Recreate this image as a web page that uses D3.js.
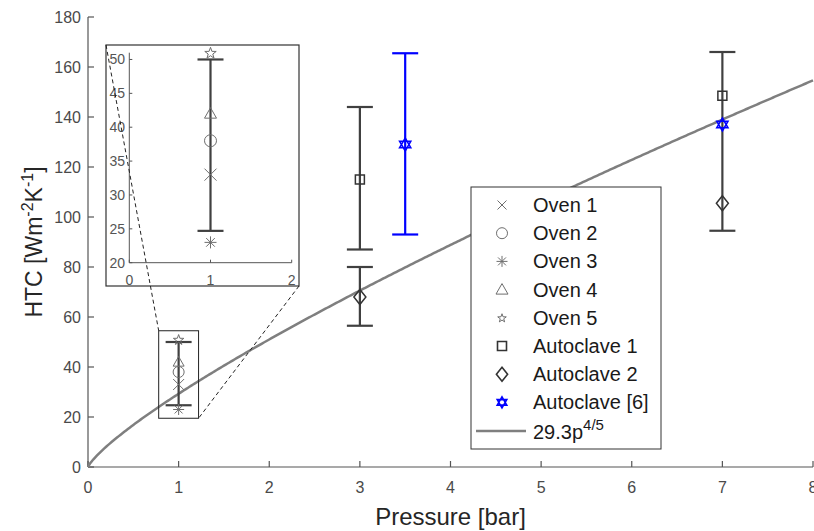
<!DOCTYPE html>
<html>
<head>
<meta charset="utf-8">
<script src="https://cdn.jsdelivr.net/npm/d3@7"></script>
<style>
  body { margin: 0; background: #fff; }
  svg { display: block; font-family: "Liberation Sans", Arial, sans-serif; }
</style>
</head>
<body>
<div id="chart"></div>
<script>
// ---------- DATA ---------- //
var ovenNames = ["Oven 1", "Oven 2", "Oven 3", "Oven 4", "Oven 5"];
var ovenSymbols = ["times", "circle", "asterisk", "triangle", "star"];
var ovenPressure = 1;
var ovenHTC = [33, 38, 23, 42, 51];

var autoclave1P = [3, 7];
var autoclave1HTC = [115, 148.5];
var autoclave2P = [3, 7];
var autoclave2HTC = [68, 105.5];
var autoclaveRefP = [3.5, 7];
var autoclaveRefHTC = [129, 137];

// error bars: pressure, low, high
var barP = [1, 3, 3, 7, 3.5];
var barLow = [24.7, 87, 56.5, 94.5, 93];
var barHigh = [50, 144, 80, 166, 165.5];
var barBlue = [false, false, false, false, true];

var fitCoef = 29.3, fitExp = 4 / 5;
var xTicks = [0, 1, 2, 3, 4, 5, 6, 7, 8];
var yTicks = [0, 20, 40, 60, 80, 100, 120, 140, 160, 180];
var insetXTicks = [0, 1, 2];
var insetYTicks = [20, 25, 30, 35, 40, 45, 50];
var zoomBox = {p0: 0.78, p1: 1.22, h0: 19.5, h1: 54.5};

// ---------- SETUP ---------- //
var W = 814, H = 531;
var svg = d3.select("#chart").append("svg").attr("width", W).attr("height", H);

var x = d3.scaleLinear().domain([0, 8]).range([88, 813]);
var y = d3.scaleLinear().domain([0, 180]).range([467, 17]);

var axisCol = "#555", labelCol = "#4a4a4a", markGray = "#6e6e6e", markDark = "#333";

// marker paths, s = size in px
function markerPath(type, s) {
  var r = s / 2, p = d3.path();
  if (type == "times") {
    p.moveTo(-r, -r); p.lineTo(r, r); p.moveTo(-r, r); p.lineTo(r, -r);
  } else if (type == "circle") {
    p.moveTo(r, 0); p.arc(0, 0, r, 0, 2 * Math.PI);
  } else if (type == "asterisk") {
    var d = r * 0.72;
    p.moveTo(-r, 0); p.lineTo(r, 0); p.moveTo(0, -r); p.lineTo(0, r);
    p.moveTo(-d, -d); p.lineTo(d, d); p.moveTo(-d, d); p.lineTo(d, -d);
  } else if (type == "triangle") {
    p.moveTo(0, -r); p.lineTo(r, r * 0.75); p.lineTo(-r, r * 0.75); p.closePath();
  } else if (type == "star") {
    for (var i = 0; i < 10; i++) {
      var a = -Math.PI / 2 + i * Math.PI / 5, rr = i % 2 ? r * 0.4 : r;
      if (i == 0) p.moveTo(rr * Math.cos(a), rr * Math.sin(a) + r * 0.1);
      else p.lineTo(rr * Math.cos(a), rr * Math.sin(a) + r * 0.1);
    }
    p.closePath();
  } else if (type == "square") {
    p.rect(-r, -r, s, s);
  } else if (type == "diamond") {
    p.moveTo(0, -r); p.lineTo(r * 0.8, 0); p.lineTo(0, r); p.lineTo(-r * 0.8, 0); p.closePath();
  } else if (type == "hexagram") {
    p.moveTo(0, -r); p.lineTo(r * 0.87, r * 0.5); p.lineTo(-r * 0.87, r * 0.5); p.closePath();
    p.moveTo(0, r); p.lineTo(r * 0.87, -r * 0.5); p.lineTo(-r * 0.87, -r * 0.5); p.closePath();
  }
  return p.toString();
}

function drawMarker(g, type, cx, cy, s, col, w) {
  g.append("path")
    .attr("d", markerPath(type, s))
    .attr("transform", "translate(" + cx + "," + cy + ")")
    .attr("fill", "none")
    .attr("stroke", col)
    .attr("stroke-width", w);
}

function drawBar(g, xs, ys, p, lo, hi, col, cap) {
  var px = xs(p);
  g.append("line").attr("x1", px).attr("x2", px).attr("y1", ys(lo)).attr("y2", ys(hi))
    .attr("stroke", col).attr("stroke-width", 2.2);
  [lo, hi].forEach(function (v) {
    g.append("line").attr("x1", px - cap).attr("x2", px + cap).attr("y1", ys(v)).attr("y2", ys(v))
      .attr("stroke", col).attr("stroke-width", 2.2);
  });
}

// ---------- AXES ---------- //
var axes = svg.append("g");
axes.append("line").attr("x1", x(0)).attr("x2", x(8)).attr("y1", y(0)).attr("y2", y(0))
  .attr("stroke", axisCol).attr("stroke-width", 1.2);
axes.append("line").attr("x1", x(0)).attr("x2", x(0)).attr("y1", y(0)).attr("y2", y(180))
  .attr("stroke", axisCol).attr("stroke-width", 1.2);

xTicks.forEach(function (t) {
  axes.append("line").attr("x1", x(t)).attr("x2", x(t)).attr("y1", y(0)).attr("y2", y(0) - 6)
    .attr("stroke", axisCol).attr("stroke-width", 1.2);
  axes.append("text").attr("x", x(t)).attr("y", 493).attr("text-anchor", "middle")
    .attr("font-size", 16).attr("fill", labelCol).text(t);
});
yTicks.forEach(function (t) {
  axes.append("line").attr("x1", x(0)).attr("x2", x(0) + 6).attr("y1", y(t)).attr("y2", y(t))
    .attr("stroke", axisCol).attr("stroke-width", 1.2);
  axes.append("text").attr("x", 81).attr("y", y(t) + 6).attr("text-anchor", "end")
    .attr("font-size", 16).attr("fill", labelCol).text(t);
});

axes.append("text").attr("x", (x(0) + x(8)) / 2).attr("y", 525).attr("text-anchor", "middle")
  .attr("font-size", 24).attr("fill", "#262626").text("Pressure [bar]");

var yl = axes.append("text").attr("transform", "translate(42," + ((y(0) + y(180)) / 2) + ") rotate(-90)")
  .attr("text-anchor", "middle").attr("font-size", 23).attr("fill", "#262626");
yl.append("tspan").text("HTC [Wm");
yl.append("tspan").attr("dy", -9).attr("font-size", 16).text("-2");
yl.append("tspan").attr("dy", 9).text("K");
yl.append("tspan").attr("dy", -9).attr("font-size", 16).text("-1");
yl.append("tspan").attr("dy", 9).text("]");

// ---------- FIT CURVE ---------- //
var fitP = d3.range(0, 8.0001, 0.02);
var line = d3.line().x(function (p) { return x(p); }).y(function (p) { return y(fitCoef * Math.pow(p, fitExp)); });
svg.append("path").datum(fitP).attr("d", line).attr("fill", "none")
  .attr("stroke", "#7f7f7f").attr("stroke-width", 2.5);

// ---------- DATA MARKS ---------- //
var marks = svg.append("g");
barP.forEach(function (p, i) {
  drawBar(marks, x, y, p, barLow[i], barHigh[i], barBlue[i] ? "#0000ff" : "#404040", 13);
});
ovenHTC.forEach(function (v, i) {
  drawMarker(marks, ovenSymbols[i], x(ovenPressure), y(v), 11, markGray, 1);
});
autoclave1P.forEach(function (p, i) { drawMarker(marks, "square", x(p), y(autoclave1HTC[i]), 9, markDark, 1.5); });
autoclave2P.forEach(function (p, i) { drawMarker(marks, "diamond", x(p), y(autoclave2HTC[i]), 15, markDark, 1.5); });
autoclaveRefP.forEach(function (p, i) { drawMarker(marks, "hexagram", x(p), y(autoclaveRefHTC[i]), 13, "#0000ff", 1.5); });

// zoom rectangle
marks.append("rect").attr("x", x(zoomBox.p0)).attr("y", y(zoomBox.h1))
  .attr("width", x(zoomBox.p1) - x(zoomBox.p0)).attr("height", y(zoomBox.h0) - y(zoomBox.h1))
  .attr("fill", "none").attr("stroke", "#222").attr("stroke-width", 1);

// ---------- LEGEND ---------- //
var lg = svg.append("g");
lg.append("rect").attr("x", 471).attr("y", 187).attr("width", 190).attr("height", 262)
  .attr("fill", "#fff").attr("stroke", "#333").attr("stroke-width", 1);
var legNames = ovenNames.concat(["Autoclave 1", "Autoclave 2", "Autoclave [6]"]);
var legSyms = ovenSymbols.concat(["square", "diamond", "hexagram"]);
var legCols = [markGray, markGray, markGray, markGray, markGray, markDark, markDark, "#0000ff"];
var legSize = [9, 11, 11, 12, 9, 9, 14, 11];
legNames.forEach(function (n, i) {
  var cy = 205 + i * 28.2;
  drawMarker(lg, legSyms[i], 502, cy, legSize[i], legCols[i], i >= 5 ? 1.6 : 1);
  lg.append("text").attr("x", 533).attr("y", cy + 7).attr("font-size", 20).attr("fill", "#1a1a1a").text(n);
});
lg.append("line").attr("x1", 476).attr("x2", 526).attr("y1", 431).attr("y2", 431)
  .attr("stroke", "#7f7f7f").attr("stroke-width", 2.5);
var ft = lg.append("text").attr("x", 533).attr("y", 439).attr("font-size", 20).attr("fill", "#1a1a1a");
ft.append("tspan").text(fitCoef + "p");
ft.append("tspan").attr("dy", -9).attr("font-size", 15).text("4/5");

// ---------- INSET ---------- //
var xi = d3.scaleLinear().domain([0, 2]).range([129.3, 291.7]);
var yi = d3.scaleLinear().domain([20, 51]).range([262.7, 52.7]);
var inset = svg.append("g");
inset.append("rect").attr("x", 106).attr("y", 45).attr("width", 193).attr("height", 241)
  .attr("fill", "#fff").attr("stroke", "#333").attr("stroke-width", 1.2);
inset.append("line").attr("x1", xi(0)).attr("x2", xi(2)).attr("y1", yi(20)).attr("y2", yi(20))
  .attr("stroke", axisCol).attr("stroke-width", 1);
inset.append("line").attr("x1", xi(0)).attr("x2", xi(0)).attr("y1", yi(20)).attr("y2", yi(51))
  .attr("stroke", axisCol).attr("stroke-width", 1);
insetXTicks.forEach(function (t) {
  inset.append("line").attr("x1", xi(t)).attr("x2", xi(t)).attr("y1", yi(20)).attr("y2", yi(20) - 3)
    .attr("stroke", axisCol);
  inset.append("text").attr("x", xi(t)).attr("y", 285).attr("text-anchor", "middle")
    .attr("font-size", 14).attr("fill", "#555").text(t);
});
insetYTicks.forEach(function (t) {
  inset.append("line").attr("x1", xi(0)).attr("x2", xi(0) + 3).attr("y1", yi(t)).attr("y2", yi(t))
    .attr("stroke", axisCol);
  inset.append("text").attr("x", 125).attr("y", yi(t) + 5).attr("text-anchor", "end")
    .attr("font-size", 14).attr("fill", "#555").text(t);
});
drawBar(inset, xi, yi, barP[0], barLow[0], barHigh[0], "#404040", 13);
ovenHTC.forEach(function (v, i) {
  drawMarker(inset, ovenSymbols[i], xi(ovenPressure), yi(v), 12, markGray, 1);
});

// connector lines
var dash = svg.append("g").attr("stroke", "#222").attr("stroke-width", 1).attr("stroke-dasharray", "4,3");
dash.append("line").attr("x1", 106).attr("y1", 45).attr("x2", x(zoomBox.p0)).attr("y2", y(zoomBox.h1));
dash.append("line").attr("x1", 299).attr("y1", 286).attr("x2", x(zoomBox.p1)).attr("y2", y(zoomBox.h0));
</script>
</body>
</html>
